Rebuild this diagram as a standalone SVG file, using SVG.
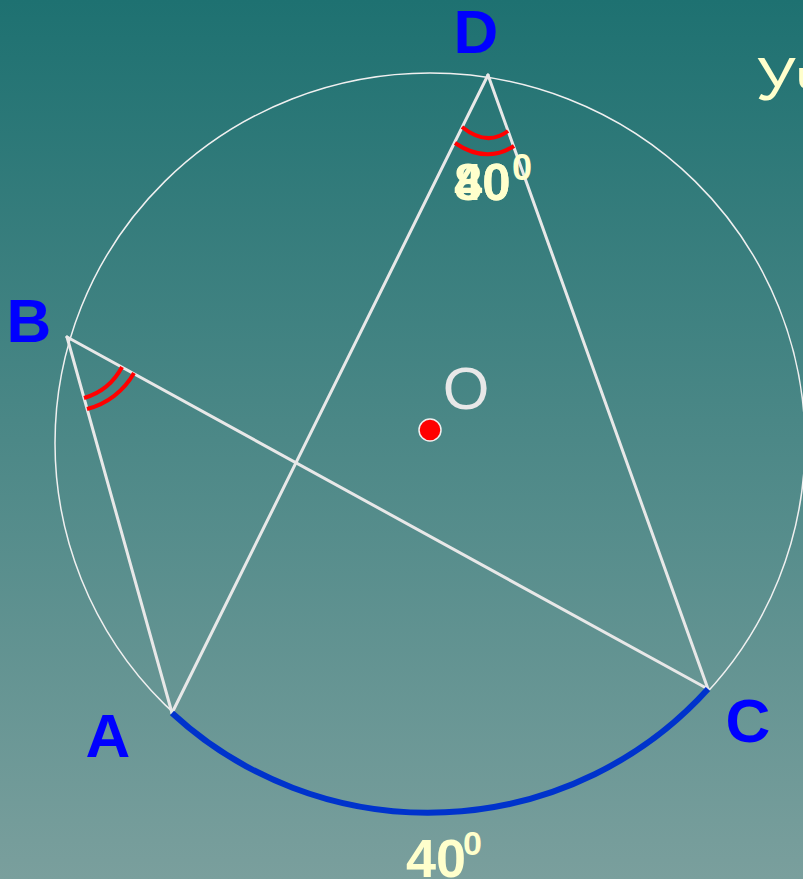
<svg xmlns="http://www.w3.org/2000/svg" width="803" height="879" viewBox="0 0 803 879">
  <defs>
    <linearGradient id="bg" x1="0" y1="0" x2="0" y2="1">
      <stop offset="0" stop-color="#1e7171"/>
      <stop offset="1" stop-color="#7a9f9d"/>
    </linearGradient>
    <style>
      .chord { stroke: #e8e8e8; stroke-width: 3; fill: none; stroke-linecap: round; }
      .angle { stroke: #ff0000; stroke-width: 4; fill: none; }
      .lbl { font-family: "Liberation Sans", Arial, sans-serif; font-weight: bold; font-size: 62px; fill: #0000ff; text-anchor: middle; }
      .num { font-family: "Liberation Sans", Arial, sans-serif; font-weight: bold; fill: #ffffcc; }
    </style>
  </defs>
  <rect x="0" y="0" width="803" height="879" fill="url(#bg)"/>

  <g id="circle">
    <ellipse cx="430" cy="443" rx="375" ry="370" fill="none" stroke="#f0f0f0" stroke-width="1.5"/>
  </g>

  <g id="connectors">
    <line class="chord" x1="67" y1="337" x2="708" y2="689"/>
    <line class="chord" x1="67" y1="337" x2="172" y2="713"/>
    <line class="chord" x1="488" y1="75" x2="172" y2="713"/>
    <line class="chord" x1="488" y1="75" x2="708" y2="689"/>
  </g>

  <g id="arc-AC">
    <path d="M172,713 A375,370 0 0,0 708,689" fill="none" stroke="#0033cc" stroke-width="6"/>
  </g>

  <g id="angle-D">
    <path class="angle" d="M462,127 Q487,147 508,131"/>
    <path class="angle" d="M455,143 Q486,164 514,146"/>
  </g>

  <g id="angle-B">
    <path class="angle" d="M84,398 A63,63 0 0,0 122,367"/>
    <path class="angle" d="M87,409 A75,75 0 0,0 134,373"/>
  </g>

  <g id="center-O">
    <circle cx="430" cy="430" r="11" fill="#ff0000" stroke="#f0f0f0" stroke-width="1.5"/>
    <text x="466" y="409" font-family="Liberation Sans, Arial, sans-serif" font-size="60" fill="#e8e8e8" text-anchor="middle">O</text>
  </g>

  <g id="node-D"><text class="lbl" x="476" y="53">D</text></g>
  <g id="node-B"><text class="lbl" x="29" y="342">B</text></g>
  <g id="node-A"><text class="lbl" x="108" y="757">A</text></g>
  <g id="node-C"><text class="lbl" x="748" y="742">C</text></g>

  <g id="label-D">
    <text class="num" x="454" y="200" font-size="51">80</text>
    <text class="num" x="454" y="200" font-size="51">40</text>
    <text class="num" x="512" y="180" font-size="36">0</text>
  </g>

  <g id="label-arc">
    <text class="num" x="406" y="877" font-size="54">40</text>
    <text class="num" x="463" y="855" font-size="34">0</text>
  </g>

  <g id="title">
    <text x="756" y="100" font-family="Liberation Sans, Arial, sans-serif" font-size="62" fill="#ffffcc">Уч</text>
  </g>
</svg>
